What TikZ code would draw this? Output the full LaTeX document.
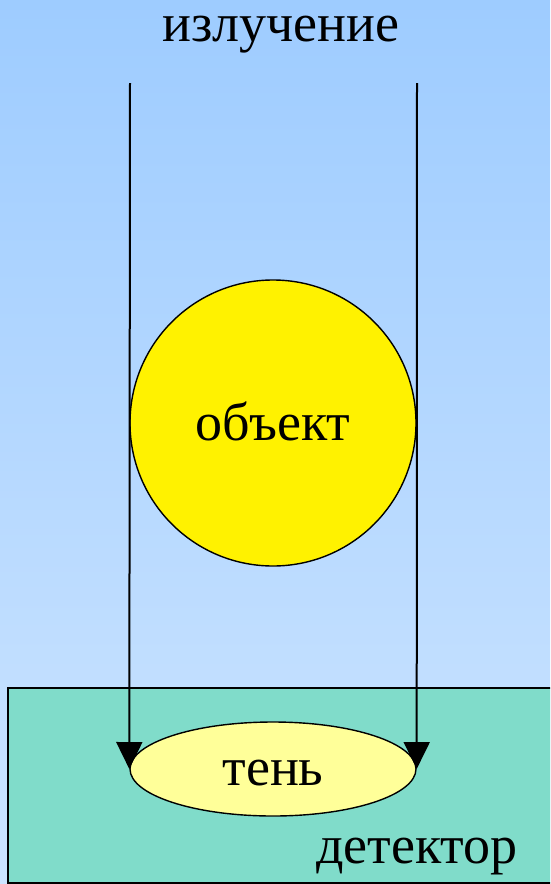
\documentclass[tikz,border=0pt]{standalone}
\usepackage{fontspec}
\setmainfont{Liberation Serif}
\usepackage{tikz}
\usetikzlibrary{arrows.meta,shapes.geometric}

\definecolor{skytop}{RGB}{158,204,255}
\definecolor{skybottom}{RGB}{204,228,255}
\definecolor{detfill}{RGB}{128,220,202}
\definecolor{shadowfill}{RGB}{255,255,153}

\tikzset{
  ray/.style={-{Triangle[length=27pt,width=26pt]}, line width=2pt},
  lbl/.style={font=\fontsize{54}{64}\selectfont, inner sep=0pt}
}

\begin{document}
\begin{tikzpicture}[x=1pt, y=-1pt, >=Stealth]

        % Background
        \useasboundingbox (0,0) rectangle (550,884);
        \clip (0,0) rectangle (550,884);
        \shade[top color=skytop, bottom color=skybottom] (0,0) rectangle (550,884);

        % Detector
        \draw[fill=detfill, line width=1.4pt] (8,688) rectangle (570,883);
        \node[lbl, anchor=base] (det) at (417,863) {детектор};

        % Object and shadow
        \node[circle, draw, line width=1.4pt, fill=yellow, minimum size=286pt] (obj) at (273,423) {};
        \node[lbl, anchor=base] (objtxt) at (273,440) {объект};
        \node[ellipse, draw, line width=1.4pt, fill=shadowfill,
              minimum width=286pt, minimum height=94pt] (shadow) at (273,769) {};
        \node[lbl, anchor=base] (shtxt) at (273,785) {тень};

        % Radiation
        \node[lbl, anchor=base] (rad) at (281,41) {излучение};
        \coordinate (srcl) at (130,83);
        \coordinate (srcr) at (417,83);
        \draw[ray] (srcl) -- (shadow.west);
        \draw[ray] (srcr) -- (shadow.east);

    \end{tikzpicture}
\end{document}
